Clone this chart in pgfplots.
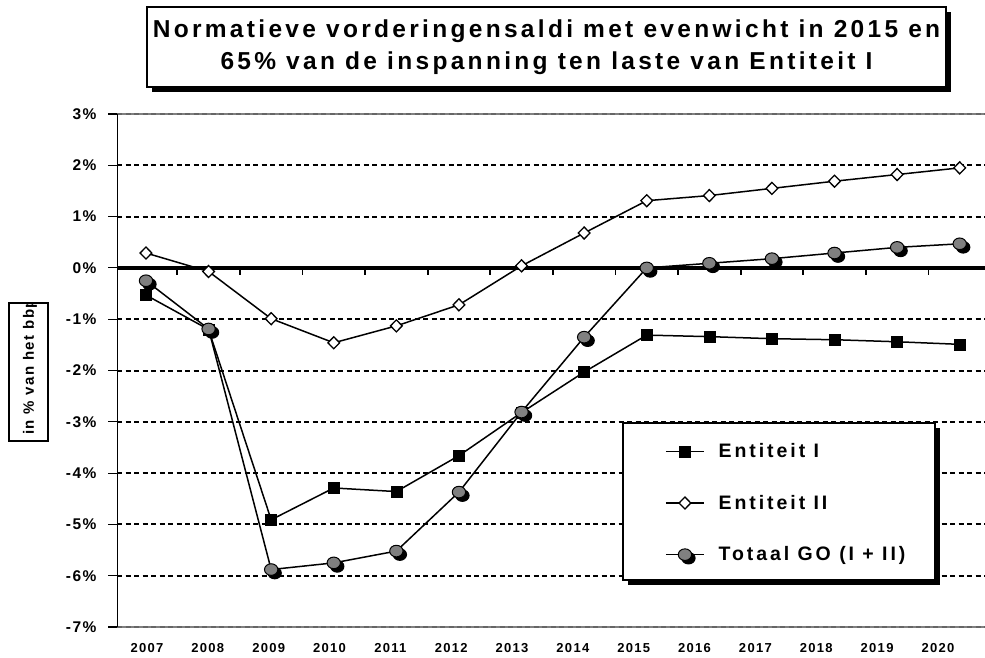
\documentclass[border=0pt]{standalone}
\usepackage{fontspec}
\setmainfont{Liberation Sans}
\newfontfamily\titlefont[LetterSpace=13.5]{Liberation Sans}
\newfontfamily\legfont[LetterSpace=15]{Liberation Sans}
\newfontfamily\lspaced[LetterSpace=10]{Liberation Sans}
\usepackage{pgfplots}
\pgfplotsset{compat=1.18}
\usetikzlibrary{shadows}

\definecolor{dotgrey}{RGB}{128,128,128}

% grey dot with a black shadow, as Excel draws it
\pgfdeclareplotmark{shadowdot}{%
  \pgfpathellipse{\pgfpoint{3.5pt}{-3.5pt}}{\pgfpoint{1.15\pgfplotmarksize}{0pt}}{\pgfpoint{0pt}{\pgfplotmarksize}}%
  \pgfsetfillcolor{black}\pgfusepathqfillstroke
  \pgfpathellipse{\pgfpointorigin}{\pgfpoint{1.15\pgfplotmarksize}{0pt}}{\pgfpoint{0pt}{\pgfplotmarksize}}%
  \pgfsetfillcolor{dotgrey}\pgfusepathqfillstroke}

% year index (2007 = 0), value in %
\pgfplotstableread{
x y
0 -0.53
1 -1.20
2 -4.91
3 -4.29
4 -4.36
5 -3.66
6 -2.82
7 -2.03
8 -1.31
9 -1.34
10 -1.38
11 -1.40
12 -1.44
13 -1.49
}\entI
\pgfplotstableread{
x y
0 0.29
1 -0.07
2 -0.99
3 -1.46
4 -1.13
5 -0.72
6 0.04
7 0.68
8 1.31
9 1.41
10 1.55
11 1.69
12 1.82
13 1.95
}\entII
\pgfplotstableread{
x y
0 -0.25
1 -1.19
2 -5.88
3 -5.75
4 -5.52
5 -4.37
6 -2.81
7 -1.35
8 0.00
9 0.09
10 0.18
11 0.29
12 0.40
13 0.47
}\totaal

\begin{document}
\begin{tikzpicture}
\useasboundingbox (0,0) rectangle (985pt,657pt);

% title box
\node[draw, line width=1.2pt, fill=white, minimum width=799pt, minimum height=80pt,
      align=center, font=\titlefont\bfseries\fontsize{24.5}{32}\selectfont,
      drop shadow={shadow xshift=5pt, shadow yshift=-5pt, fill=black, opacity=1}]
  at (546.5pt,610pt) {Normatieve vorderingensaldi met evenwicht in 2015 en\\65\% van de inspanning ten laste van Entiteit I};

% y label box (text runs out of it, as in the original)
\begin{scope}
\clip (9pt,216pt) rectangle (48pt,354pt);
\node[rotate=90, anchor=west, inner sep=0pt, font=\lspaced\bfseries\fontsize{15}{17}\selectfont] at (30pt,222pt) {in \% van het bbp};
\end{scope}
\draw[line width=1.2pt] (9pt,216pt) rectangle (48pt,354pt);

\begin{axis}[
  at={(117pt,30pt)}, anchor=south west,
  scale only axis, width=874pt, height=513pt,
  xmin=-0.463, xmax=13.5, ymin=-7, ymax=3,
  axis line style={draw=none},
  ytick={-7,...,3},
  yticklabels={-7\%,-6\%,-5\%,-4\%,-3\%,-2\%,-1\%,0\%,1\%,2\%,3\%},
  ytick pos=left, tick align=outside,
  major tick length=9pt,
  y tick style={black, line width=1.2pt},
  yticklabel style={font=\lspaced\bfseries\fontsize{15.5}{17}\selectfont, xshift=-8pt},
  xtick={0.016,0.988,1.960,2.932,3.904,4.876,5.848,6.820,7.792,8.764,9.736,10.708,11.680,12.652},
  xticklabels={2007,2008,2009,2010,2011,2012,2013,2014,2015,2016,2017,2018,2019,2020},
  x tick style={draw=none},
  xticklabel style={font=\lspaced\bfseries\fontsize{13}{14}\selectfont, yshift=-4pt},
  ymajorgrids,
  grid style={black, line width=2pt, dash pattern=on 5pt off 3.5pt},
  legend style={at={(rel axis cs:0.627,0.2417)}, anchor=west,
    draw=none, fill=none, inner sep=0pt, row sep=32pt,
    font=\legfont\bfseries\fontsize{19.5}{21}\selectfont},
  legend cell align=left,
  legend image code/.code={\draw[mark repeat=2,mark phase=2,#1] plot coordinates {(0pt,0pt) (19pt,0pt) (38pt,0pt)};},
]
% top and bottom border lines
\draw[dotgrey, line width=3pt] (rel axis cs:0,1) -- (rel axis cs:1,1);
\draw[black!60, line width=2pt, dash pattern=on 5pt off 3.5pt] (rel axis cs:0,1) -- (rel axis cs:1,1);
\draw[dotgrey, line width=3pt] (rel axis cs:0,0) -- (rel axis cs:1,0);
\draw[black!60, line width=2pt, dash pattern=on 5pt off 3.5pt] (rel axis cs:0,0) -- (rel axis cs:1,0);
% left axis line
\draw[black, line width=1.6pt] (rel axis cs:0,0) -- (rel axis cs:0,1);
% zero line with category ticks
\draw[black, line width=3.5pt] (axis cs:-0.463,0) -- (axis cs:13.5,0);
\pgfplotsinvokeforeach{0,...,12}{\draw[black, line width=1.8pt] (axis cs:#1.5,0) -- ([yshift=-7pt]axis cs:#1.5,0);}

\addplot[black, line width=1.5pt, mark=square*, mark size=5.5pt, mark options={fill=black, line width=0.5pt}] table {\entI};
\addlegendentry{\hspace{12pt}Entiteit I}
\addplot[black, line width=1.5pt, mark=diamond*, mark size=6pt, mark options={fill=white, line width=1.3pt, xscale=1.3}] table {\entII};
\addlegendentry{\hspace{12pt}Entiteit II}
\addplot[black, line width=1.5pt, mark=shadowdot, mark size=5.8pt, mark options={line width=1pt}] table {\totaal};
\addlegendentry{\hspace{12pt}Totaal GO (I + II)}

% legend frame with its shadow
\fill[black] (rel axis cs:0.5847,0.3880) rectangle (rel axis cs:0.9417,0.0819);
\draw[black, line width=1.2pt, fill=white] (rel axis cs:0.579,0.3977) rectangle (rel axis cs:0.936,0.0916);
\end{axis}
\end{tikzpicture}
\end{document}
